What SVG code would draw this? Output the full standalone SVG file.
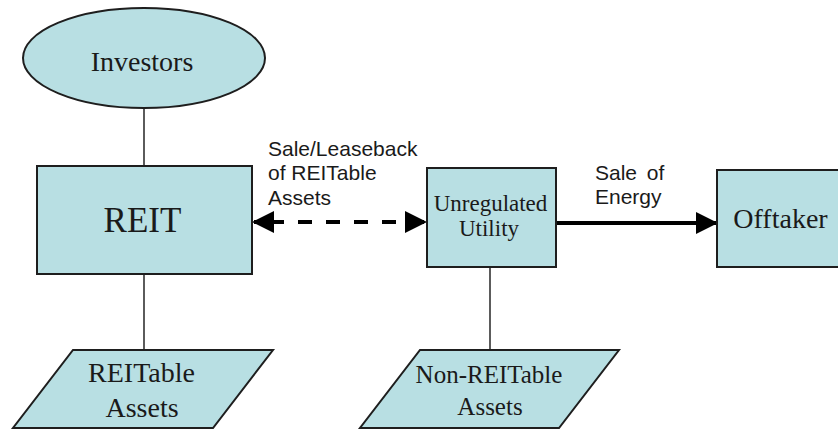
<svg xmlns="http://www.w3.org/2000/svg" width="838" height="432" viewBox="0 0 838 432">
<style>
.shape{fill:#b8dfe3;stroke:#1e1e1e;stroke-width:2}
.conn{stroke:#333;stroke-width:1.6;fill:none}
.serif{font-family:"Liberation Serif","Times New Roman",serif;fill:#1a1a1a;text-anchor:middle}
.sans{font-family:"Liberation Sans",Arial,sans-serif;fill:#1a1a1a;font-size:21px}
</style>
<defs>
<marker id="ah" viewBox="0 0 22 22" refX="20" refY="11" markerWidth="22" markerHeight="22" markerUnits="userSpaceOnUse" orient="auto-start-reverse">
<path d="M0,0 L22,11 L0,22 Z" fill="#000"/>
</marker>
</defs>
<rect width="838" height="432" fill="#fff"/>
<g id="connectors">
<line class="conn" x1="144" y1="108" x2="144" y2="166"/>
<line class="conn" x1="144" y1="274" x2="144" y2="350"/>
<line class="conn" x1="490" y1="267" x2="490" y2="350"/>
<line x1="254" y1="222" x2="425" y2="222" stroke="#000" stroke-width="4" stroke-dasharray="14 14" stroke-dashoffset="12" marker-start="url(#ah)" marker-end="url(#ah)"/>
<line x1="556" y1="223" x2="716" y2="223" stroke="#000" stroke-width="4" marker-end="url(#ah)"/>
<text class="sans" x="268" y="156">Sale/Leaseback</text>
<text class="sans" x="268" y="180">of REITable</text>
<text class="sans" x="268" y="205">Assets</text>
<text class="sans" x="595" y="180" word-spacing="4">Sale of</text>
<text class="sans" x="595" y="204">Energy</text>
</g>
<g id="investors">
<ellipse class="shape" cx="144" cy="58" rx="121" ry="50"/>
<text class="serif" x="142" y="71" font-size="28">Investors</text>
</g>
<g id="reit">
<rect class="shape" x="37" y="166" width="215" height="108"/>
<text class="serif" x="142.5" y="232" font-size="35">REIT</text>
</g>
<g id="utility">
<rect class="shape" x="427" y="168" width="129" height="99"/>
<text class="serif" x="490.5" y="211" font-size="23">Unregulated</text>
<text class="serif" x="489" y="236" font-size="23">Utility</text>
</g>
<g id="offtaker">
<rect class="shape" x="717" y="170" width="130" height="97"/>
<text class="serif" x="780.5" y="228" font-size="28">Offtaker</text>
</g>
<g id="reitable-assets">
<polygon class="shape" points="73,350 273,350 213,428 13,428"/>
<text class="serif" x="141.5" y="382" font-size="28">REITable</text>
<text class="serif" x="142" y="417" font-size="28">Assets</text>
</g>
<g id="non-reitable-assets">
<polygon class="shape" points="420,350 619,350 559,428 360,428"/>
<text class="serif" x="489" y="383" font-size="25">Non-REITable</text>
<text class="serif" x="490" y="415" font-size="25">Assets</text>
</g>
</svg>
